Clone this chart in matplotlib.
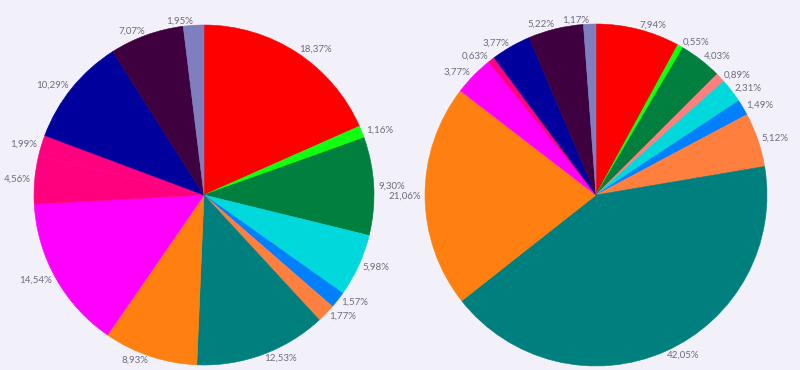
import matplotlib.pyplot as plt

# parts en % (deux camemberts)
left_values = [18.37, 1.16, 9.30, 5.98, 1.57, 1.77, 12.53, 8.93, 14.54, 4.56, 1.99, 10.29, 7.07, 1.95]
left_colors = ['#ff0000', '#11ff11', '#007f3f', '#00d8dc', '#007fff', '#ff7f3f', '#007f7f',
               '#ff8010', '#ff00ff', '#ff007f', '#ff007f', '#00009c', '#3f003f', '#7f7fbf']

right_values = [7.94, 0.55, 4.03, 0.89, 2.31, 1.49, 5.12, 42.05, 21.06, 3.77, 0.63, 3.77, 5.22, 1.17]
right_colors = ['#ff0000', '#11ff11', '#007f3f', '#ff7f7f', '#00d8dc', '#007fff', '#ff7f3f',
                '#007f7f', '#ff8010', '#ff00ff', '#ff007f', '#00009c', '#3f003f', '#7f7fbf']

bg = '#f2f1f9'
txt = '#6c6c80'

plt.rcParams['font.family'] = ['Lato', 'DejaVu Sans']

fig = plt.figure(figsize=(8, 3.7), dpi=100, facecolor=bg)


def draw_pie(rect, values, colors):
    ax = fig.add_axes(rect)
    ax.set_facecolor(bg)
    labels = [f'{v:.2f}%'.replace('.', ',') for v in values]
    wedges, texts = ax.pie(values, colors=colors, labels=labels, startangle=90,
                           counterclock=False, labeldistance=1.025,
                           textprops={'color': txt, 'fontsize': 7})
    # bord de la couleur du secteur, pour cacher les joints
    for w, c in zip(wedges, colors):
        w.set_edgecolor(c)
        w.set_linewidth(0.4)
    for t in texts:
        t.set_clip_on(False)
    ax.set_xlim(-1, 1)
    ax.set_ylim(-1, 1)
    ax.axis('off')
    return ax


draw_pie([34 / 800, 5 / 370, 340 / 800, 340 / 370], left_values, left_colors)
draw_pie([425 / 800, 4 / 370, 342 / 800, 342 / 370], right_values, right_colors)

fig.savefig('out.png', dpi=100, facecolor=bg)
